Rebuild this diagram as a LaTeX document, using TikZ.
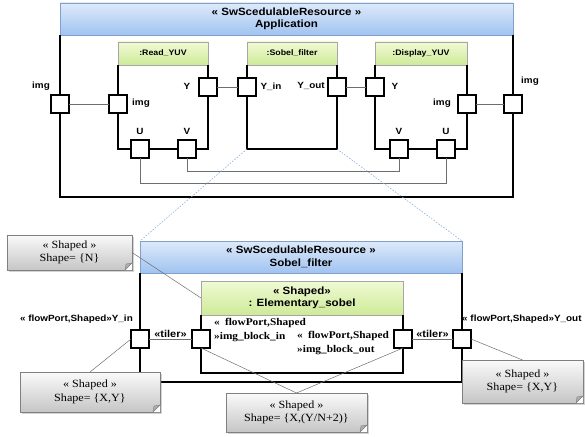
\documentclass[tikz,border=0pt]{standalone}
\usepackage{fontspec}
\setmainfont[FakeStretch=1.1]{Liberation Serif}
\setsansfont[FakeStretch=1.1]{Liberation Sans}
\usetikzlibrary{shadows,calc}

\definecolor{hdrBlueTop}{RGB}{222,234,250}
\definecolor{hdrBlueBot}{RGB}{160,195,240}
\definecolor{hdrBlueLine}{RGB}{130,160,200}
\definecolor{hdrGreenTop}{RGB}{240,250,212}
\definecolor{hdrGreenBot}{RGB}{206,234,152}
\definecolor{linkGray}{RGB}{110,110,110}
\definecolor{zoomBlue}{RGB}{140,175,215}

\tikzset{
  bluehdr/.style={anchor=north west, draw=hdrBlueLine, top color=hdrBlueTop, bottom color=hdrBlueBot,
    font=\sffamily\bfseries\fontsize{10.5}{12.5}\selectfont, align=center, inner sep=0pt, outer sep=0pt},
  greenhdr/.style={anchor=north west, draw=gray!70, top color=hdrGreenTop, bottom color=hdrGreenBot,
    font=\sffamily\bfseries\fontsize{8}{10}\selectfont, align=center, inner sep=0pt, outer sep=0pt},
  body/.style={anchor=north, inner sep=0pt, outer sep=0pt},
  sides/.style={line width=1.3pt},
  port/.style={draw, fill=white, line width=1.1pt, minimum size=18pt, inner sep=0pt, outer sep=0pt},
  plbl/.style={font=\sffamily\bfseries\fontsize{9}{10}\selectfont, inner sep=0pt},
  flbl/.style={font=\sffamily\bfseries\fontsize{9}{11}\selectfont, inner sep=0pt},
  blbl/.style={font=\bfseries\fontsize{10.3}{14.5}\selectfont, align=left, inner sep=0pt},
  tiler/.style={font=\sffamily\bfseries\fontsize{10}{11}\selectfont, anchor=south, inner sep=1pt},
  link/.style={draw=linkGray, line width=0.5pt},
  zoomln/.style={draw=zoomBlue, dash pattern=on 1.5pt off 1.5pt, line width=0.6pt},
  note/.style={anchor=north west, draw=gray, top color=gray!4, bottom color=gray!45,
    drop shadow={shadow xshift=1.5pt, shadow yshift=-1.5pt, opacity=0.35},
    font=\fontsize{11}{13.5}\selectfont, align=center, inner sep=0pt, outer sep=0pt}
}

\begin{document}
\begin{tikzpicture}[x=1pt,y=1pt,yscale=-1,xscale=1]
  \useasboundingbox (0,0) rectangle (585,436);

  % application
  \node[bluehdr, minimum width=453pt, minimum height=32pt] (appH) at (60,3) {« SwScedulableResource »\\Application};
  \node[body, minimum width=453pt, minimum height=162pt] (appB) at (appH.south) {};
  \draw[sides] (appB.north west) -- (appB.south west) -- (appB.south east) -- (appB.north east);

  \node[greenhdr, minimum width=90pt, minimum height=23pt] (rdH) at (118,42) {:Read\_YUV};
  \node[body, minimum width=90pt, minimum height=84pt] (rdB) at (rdH.south) {};
  \draw[sides] (rdB.north west) -- (rdB.south west) -- (rdB.south east) -- (rdB.north east);

  \node[greenhdr, minimum width=90pt, minimum height=23pt] (sbH) at (247,42) {:Sobel\_filter};
  \node[body, minimum width=90pt, minimum height=84pt] (sbB) at (sbH.south) {};
  \draw[sides] (sbB.north west) -- (sbB.south west) -- (sbB.south east) -- (sbB.north east);

  \node[greenhdr, minimum width=92pt, minimum height=23pt] (dpH) at (375,42) {:Display\_YUV};
  \node[body, minimum width=92pt, minimum height=84pt] (dpB) at (dpH.south) {};
  \draw[sides] (dpB.north west) -- (dpB.south west) -- (dpB.south east) -- (dpB.north east);

  % ports
  \node[port] (pAimgL) at (60,104) {};
  \node[port] (pRimg) at (118,104) {};
  \node[port] (pRY) at (208,87) {};
  \node[port] (pRU) at (140,149) {};
  \node[port] (pRV) at (187,149) {};
  \node[port] (pSYin) at (247,87) {};
  \node[port] (pSYout) at (337,87) {};
  \node[port] (pDY) at (375,87) {};
  \node[port] (pDimg) at (467,104) {};
  \node[port] (pDV) at (399,149) {};
  \node[port] (pDU) at (446,149) {};
  \node[port] (pAimgR) at (513,104) {};

  \node[plbl] (lAimgL) at (41,86) {img};
  \node[plbl] (lRimg) at (141,103) {img};
  \node[plbl] (lRY) at (187,86) {Y};
  \node[plbl] (lRU) at (140,131) {U};
  \node[plbl] (lRV) at (187,131) {V};
  \node[plbl] (lSYin) at (271,87) {Y\_in};
  \node[plbl] (lSYout) at (311,86) {Y\_out};
  \node[plbl] (lDY) at (395,86) {Y};
  \node[plbl] (lDimg) at (442,103) {img};
  \node[plbl] (lDV) at (399,131) {V};
  \node[plbl] (lDU) at (446,131) {U};
  \node[plbl] (lAimgR) at (530,81) {img};

  \draw[link] (pAimgL) -- (pRimg);
  \draw[link] (pRY) -- (pSYin);
  \draw[link] (pSYout) -- (pDY);
  \draw[link] (pDimg) -- (pAimgR);
  \draw[link] (pRV.south) -- ++(0,13) -| (pDV.south);
  \draw[link] (pRU.south) -- ++(0,25) -| (pDU.south);

  % sobel filter detail
  \node[bluehdr, minimum width=322pt, minimum height=32pt] (sbH2) at (140,241) {« SwScedulableResource »\\Sobel\_filter};
  \node[body, minimum width=322pt, minimum height=109pt] (sbB2) at (sbH2.south) {};
  \draw[sides] (sbB2.north west) -- (sbB2.south west) -- (sbB2.south east) -- (sbB2.north east);

  \draw[zoomln] (sbB.south west) -- (sbH2.north west);
  \draw[zoomln] (sbB.south east) -- (sbH2.north east);

  \node[greenhdr, minimum width=202pt, minimum height=34pt, font=\sffamily\bfseries\fontsize{10.5}{12.5}\selectfont] (elH) at (201,281) {« Shaped»\\: Elementary\_sobel};
  \node[body, minimum width=202pt, minimum height=58pt] (elB) at (elH.south) {};
  \draw[sides] (elB.north west) -- (elB.south west) -- (elB.south east) -- (elB.north east);

  \node[port] (pYin) at (140,339) {};
  \node[port] (pBin) at (201,339) {};
  \node[port] (pBout) at (403,339) {};
  \node[port] (pYout) at (462,339) {};

  \draw[link] (pYin) -- node[tiler] (tl1) {«tiler»} (pBin);
  \draw[link] (pBout) -- node[tiler] (tl2) {«tiler»} (pYout);

  \node[flbl, anchor=east] (lYin) at (133,319) {« flowPort,Shaped»Y\_in};
  \node[flbl, anchor=west] (lYout) at (462,319) {« flowPort,Shaped»Y\_out};
  \node[blbl, anchor=west] (lBin) at (214,330) {«\enspace flowPort,Shaped\\»img\_block\_in};
  \node[blbl, anchor=west] (lBout) at (297,343) {«\enspace flowPort,Shaped\\»img\_block\_out};

  % notes
  \node[note, minimum width=125pt, minimum height=35pt] (nN) at (7,235) {« Shaped »\\Shape= \{N\}};
  \node[note, minimum width=140pt, minimum height=40pt] (nXY) at (20,372) {« Shaped »\\Shape= \{X,Y\}};
  \node[note, minimum width=141pt, minimum height=39pt] (nMid) at (226,393) {« Shaped »\\Shape= \{X,(Y/N+2)\}};
  \node[note, minimum width=121pt, minimum height=43pt] (nXYr) at (462,360) {« Shaped »\\Shape= \{X,Y\}};

  \foreach \n in {nN,nXY,nMid,nXYr} {
    \fill[white] (\n.south east) -- ($(\n.south east)+(-7,0)$) -- ($(\n.south east)+(0,-7)$) -- cycle;
    \draw[gray, fill=gray!65] ($(\n.south east)+(-7,0)$) -- ($(\n.south east)+(0,-7)$) -- ($(\n.south east)+(-6,-6)$) -- cycle;
  }

  \draw[link] (nN.east) -- (elH.west);
  \draw[link] (nXY.north) -- (pYin.west);
  \draw[link] (nMid.north) -- (pBin.south);
  \draw[link] (nMid.north) -- (pBout.south);
  \draw[link] (nXYr.north) -- (pYout.east);
\end{tikzpicture}
\end{document}
